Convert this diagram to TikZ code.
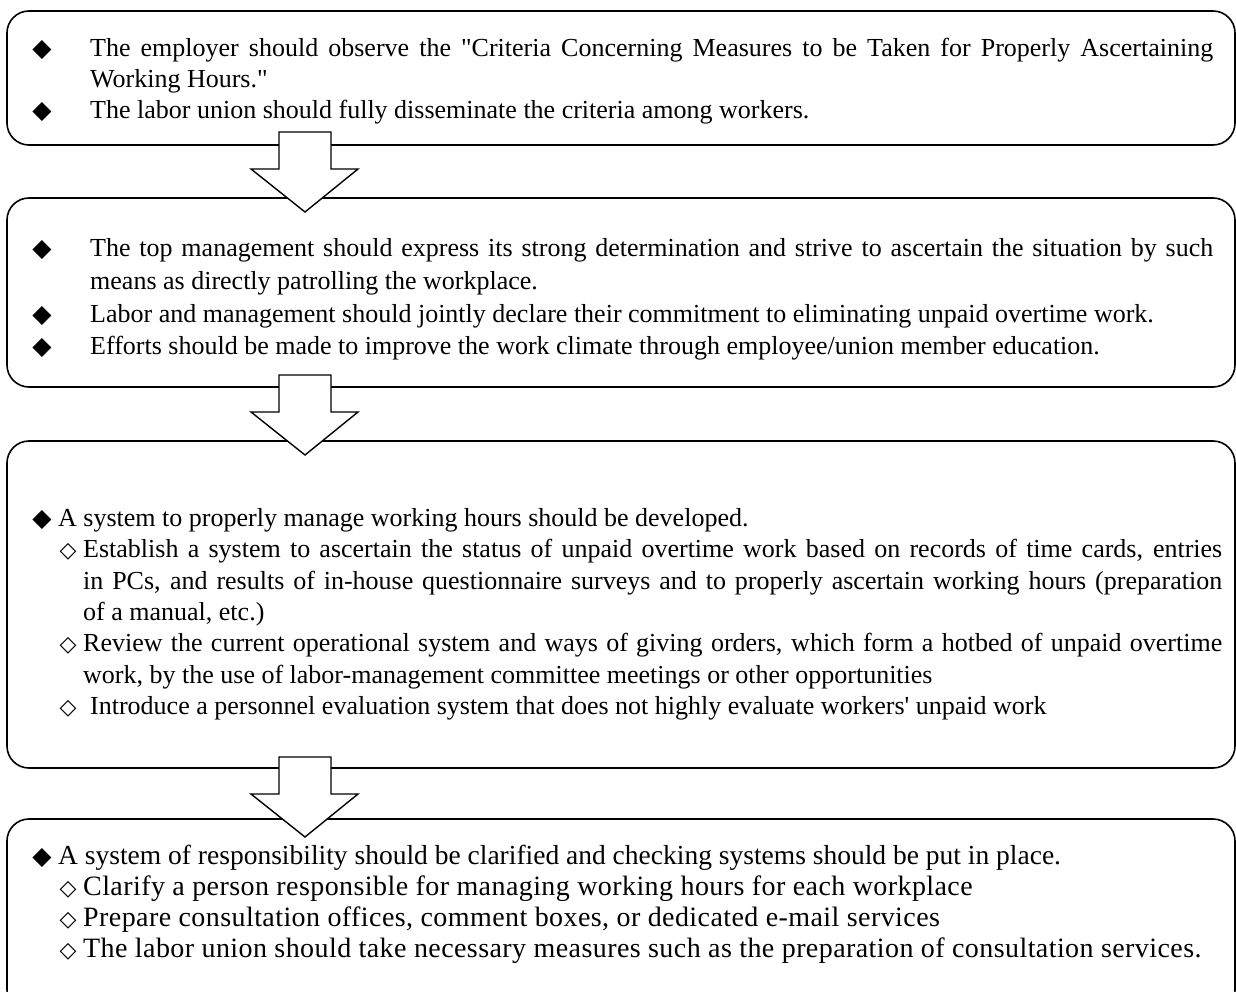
\documentclass[tikz,border=0pt]{standalone}
\usepackage{fontspec}
\setmainfont{Liberation Serif}
\newfontfamily\symfont{DejaVu Sans}
\newcommand\fulldia{{\symfont\fontsize{25}{25}\selectfont ◆}}
\newcommand\opendia{{\symfont\fontsize{22}{22}\selectfont ◇}}
\tikzset{
  panel/.style={line width=1.6pt,rounded corners=22pt},
  blockarrow/.style={line width=1.4pt,fill=white,line join=miter},
  txt/.style={anchor=base west,inner sep=0pt,font=\fontsize{26}{31}\selectfont},
  fullline/.style={txt,text width=#1,align=justify,
    execute at begin node={\parfillskip=0pt\relax}},
  bigtxt/.style={txt,font=\fontsize{27.5}{31}\selectfont},
  widetxt/.style={txt,font=\fontsize{28}{31}\selectfont\addfontfeatures{LetterSpace=1.5}},
  dot/.style={anchor=base,inner sep=0pt},
}

\begin{document}
\begin{tikzpicture}[x=1pt,y=-1pt]
  \useasboundingbox (0,0) rectangle (1236,992);
  \clip (0,0) rectangle (1236,992);

  % the four panels
  \draw[panel] (7,11) rectangle (1235,145);
  \draw[panel] (7,198) rectangle (1235,387);
  \draw[panel] (7,441) rectangle (1235,768);
  \draw[panel] (7,819) rectangle (1235,1012);

  % block arrows between the panels
  \foreach \t in {132,375,757}
    \draw[blockarrow] (279,\t) -- (331,\t) -- (331,\t+37) -- (358,\t+37)
      -- (305,\t+80) -- (251,\t+37) -- (279,\t+37) -- cycle;

  % first panel
  \node[dot] (ba) at (42,57) {\fulldia};
  \node[fullline=1123pt] (ta) at (90,57) {The employer should observe the \textquotedbl Criteria Concerning Measures to be Taken for Properly Ascertaining};
  \node[txt] (taa) at (90,88) {Working Hours.\textquotedbl};
  \node[dot] (bb) at (42,119) {\fulldia};
  \node[txt] (tb) at (90,119) {The labor union should fully disseminate the criteria among workers.};

  % second panel
  \node[dot] (bc) at (42,257) {\fulldia};
  \node[fullline=1123pt] (tc) at (90,257) {The top management should express its strong determination and strive to ascertain the situation by such};
  \node[txt] (tcc) at (90,290) {means as directly patrolling the workplace.};
  \node[dot] (bd) at (42,322) {\fulldia};
  \node[txt] (td) at (90,322) {Labor and management should jointly declare their commitment to eliminating unpaid overtime work.};
  \node[dot] (be) at (42,354) {\fulldia};
  \node[txt] (te) at (90,354) {Efforts should be made to improve the work climate through employee/union member education.};

  % third panel
  \node[dot] (bf) at (42,526) {\fulldia};
  \node[txt] (tf) at (58,526) {A system to properly manage working hours should be developed.};
  \node[dot] (bg) at (68,557) {\opendia};
  \node[fullline=1139pt] (tg) at (83,557) {Establish a system to ascertain the status of unpaid overtime work based on records of time cards, entries};
  \node[fullline=1139pt] (tgg) at (83,589) {in PCs, and results of in-house questionnaire surveys and to properly ascertain working hours (preparation};
  \node[txt] (tggg) at (83,620) {of a manual, etc.)};
  \node[dot] (bh) at (68,651) {\opendia};
  \node[fullline=1139pt] (th) at (83,651) {Review the current operational system and ways of giving orders, which form a hotbed of unpaid overtime};
  \node[txt] (thh) at (83,683) {work, by the use of labor-management committee meetings or other opportunities};
  \node[dot] (bi) at (68,714) {\opendia};
  \node[txt] (ti) at (90,714) {Introduce a personnel evaluation system that does not highly evaluate workers\textquotesingle{} unpaid work};

  % fourth panel
  \node[dot] (bj) at (42,864) {\fulldia};
  \node[bigtxt] (tj) at (58,864) {A system of responsibility should be clarified and checking systems should be put in place.};
  \node[dot] (bk) at (68,895) {\opendia};
  \node[widetxt] (tk) at (83,895) {Clarify a person responsible for managing working hours for each workplace};
  \node[dot] (bl) at (68,926) {\opendia};
  \node[widetxt] (tl) at (83,926) {Prepare consultation offices, comment boxes, or dedicated e-mail services};
  \node[dot] (bm) at (68,957) {\opendia};
  \node[widetxt] (tm) at (83,957) {The labor union should take necessary measures such as the preparation of consultation services.};
\end{tikzpicture}
\end{document}
